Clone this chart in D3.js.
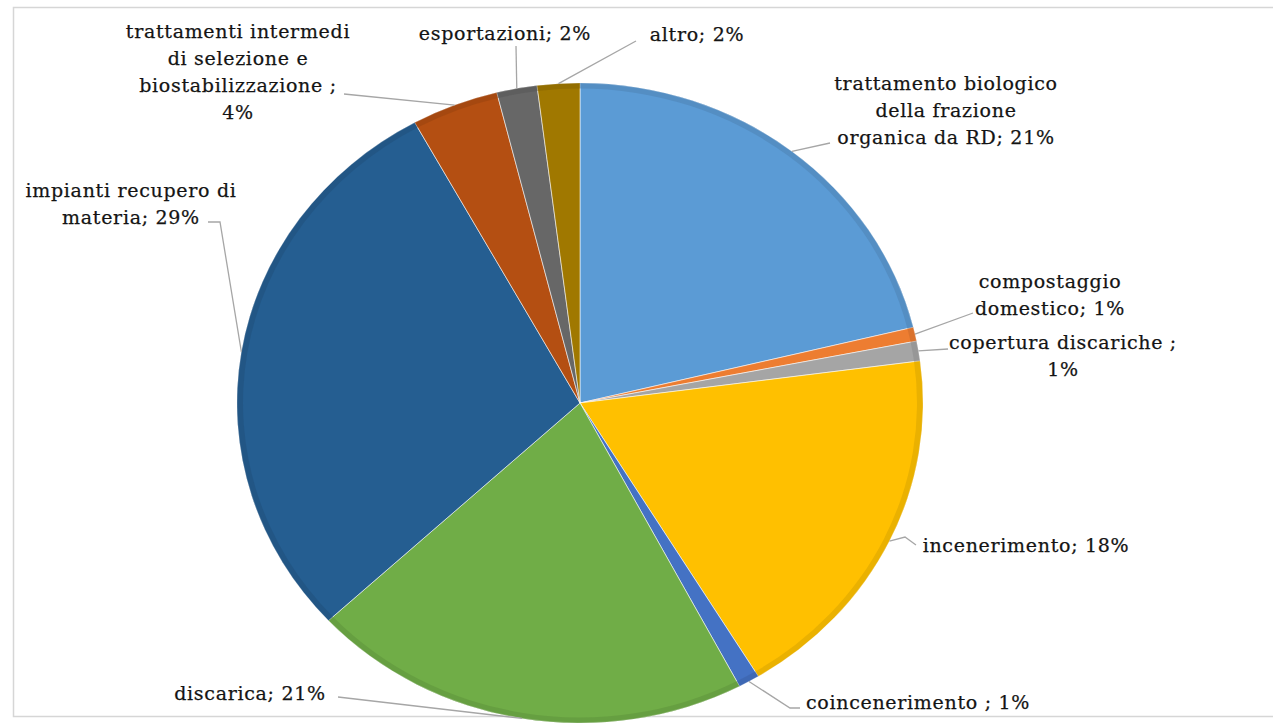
<!DOCTYPE html>
<html lang="it">
<head>
<meta charset="utf-8">
<script src="https://d3js.org/d3.v7.min.js"></script>
<style type="text/css">
body {
	margin: 0;
	background: #fff;
}
</style>
</head>
<body>
<script type="text/javascript">

// slices, clockwise from 12 o'clock
var categories = ["trattamento biologico della frazione organica da RD", "compostaggio domestico",
	"copertura discariche", "incenerimento", "coincenerimento", "discarica",
	"impianti recupero di materia", "trattamenti intermedi di selezione e biostabilizzazione",
	"esportazioni", "altro"];
var values = [21.2, 0.7, 1.0, 18.4, 1.0, 20.8, 28.9, 4.1, 1.9, 2.0];
var labelLines = [
	["trattamento biologico", "della frazione", "organica da RD; 21%"],
	["compostaggio", "domestico; 1%"],
	["copertura discariche ;", "1%"],
	["incenerimento; 18%"],
	["coincenerimento ; 1%"],
	["discarica; 21%"],
	["impianti recupero di", "materia; 29%"],
	["trattamenti intermedi", "di selezione e", "biostabilizzazione ;", "4%"],
	["esportazioni; 2%"],
	["altro; 2%"]
];
var colors = ["#5b9bd5", "#ed7d31", "#a5a5a5", "#ffc000", "#4472c4", "#70ad47",
	"#255e91", "#b44f12", "#676767", "#a07800"];

var width = 1273, height = 727;
var cx = 580, cy = 403, rx = 343, ry = 320;
var lineH = 27;
var fontStack = "DejaVu Serif";

// label placement (centre of first line) and leader bends
var layout = [
	{x: 946, y: 83, pts: [[830, 143]]},
	{x: 1050, y: 281, pts: [[973, 313]]},
	{x: 1063, y: 342, pts: [[948, 349]]},
	{x: 1026, y: 545, pts: [[905, 537], [916, 545]]},
	{x: 918, y: 702, pts: [[790, 708], [800, 708]]},
	{x: 250, y: 693, pts: [[338, 697]]},
	{x: 131, y: 190, pts: [[220, 222], [208, 222]]},
	{x: 238, y: 31, pts: [[344, 94]]},
	{x: 505, y: 33, pts: [[516, 46]]},
	{x: 697, y: 34, pts: [[636, 41]]}
];

var svg = d3.select("body").append("svg")
	.attr("width", width)
	.attr("height", height);

// outer frame
svg.append("rect")
	.attr("x", 13.5).attr("y", 7.5)
	.attr("width", 1300).attr("height", 709)
	.style("fill", "none")
	.style("stroke", "#d6d6d6")
	.style("stroke-width", 1.5);

var pie = d3.pie().sort(null).value(function(d) { return d; });
var arcs = pie(values);

var arc = d3.arc().innerRadius(0).outerRadius(rx);
var rim = d3.arc().innerRadius(rx - 6).outerRadius(rx);

var g = svg.append("g")
	.attr("transform", "translate(" + cx + "," + cy + ") scale(1," + (ry / rx) + ")");

g.selectAll("path.slice")
	.data(arcs)
	.enter().append("path")
	.attr("class", "slice")
	.attr("d", arc)
	.style("fill", function(d, i) { return colors[i]; })
	.style("stroke", "rgba(255,255,255,0.55)")
	.style("stroke-width", 1)
	.attr("vector-effect", "non-scaling-stroke");

// darker bevel along the outer edge
g.selectAll("path.rim")
	.data(arcs)
	.enter().append("path")
	.attr("class", "rim")
	.attr("d", rim)
	.style("fill", function(d, i) { return d3.color(colors[i]).darker(0.45); })
	.style("opacity", 0.55);

function edgePoint(d) {
	var a = (d.startAngle + d.endAngle) / 2;
	return [cx + rx * Math.sin(a), cy - ry * Math.cos(a)];
}

// leader lines
var line = d3.line();
svg.selectAll("path.leader")
	.data(arcs)
	.enter().append("path")
	.attr("class", "leader")
	.attr("d", function(d, i) { return line([edgePoint(d)].concat(layout[i].pts)); })
	.style("fill", "none")
	.style("stroke", "#a6a6a6")
	.style("stroke-width", 1.3);

// labels
var labels = svg.selectAll("text.lbl")
	.data(labelLines)
	.enter().append("text")
	.attr("class", "lbl")
	.attr("text-anchor", "middle")
	.style("font-family", fontStack)
	.style("font-size", "19px")
	.style("letter-spacing", "0.7px")
	.style("fill", "#141414")
	.style("stroke", "#141414")
	.style("stroke-width", 0.25);

labels.each(function(lines, i) {
	var t = d3.select(this);
	lines.forEach(function(s, k) {
		t.append("tspan")
			.attr("x", layout[i].x)
			.attr("y", layout[i].y + k * lineH)
			.attr("dy", "0.35em")
			.text(s);
	});
});

</script>
</body>
</html>
